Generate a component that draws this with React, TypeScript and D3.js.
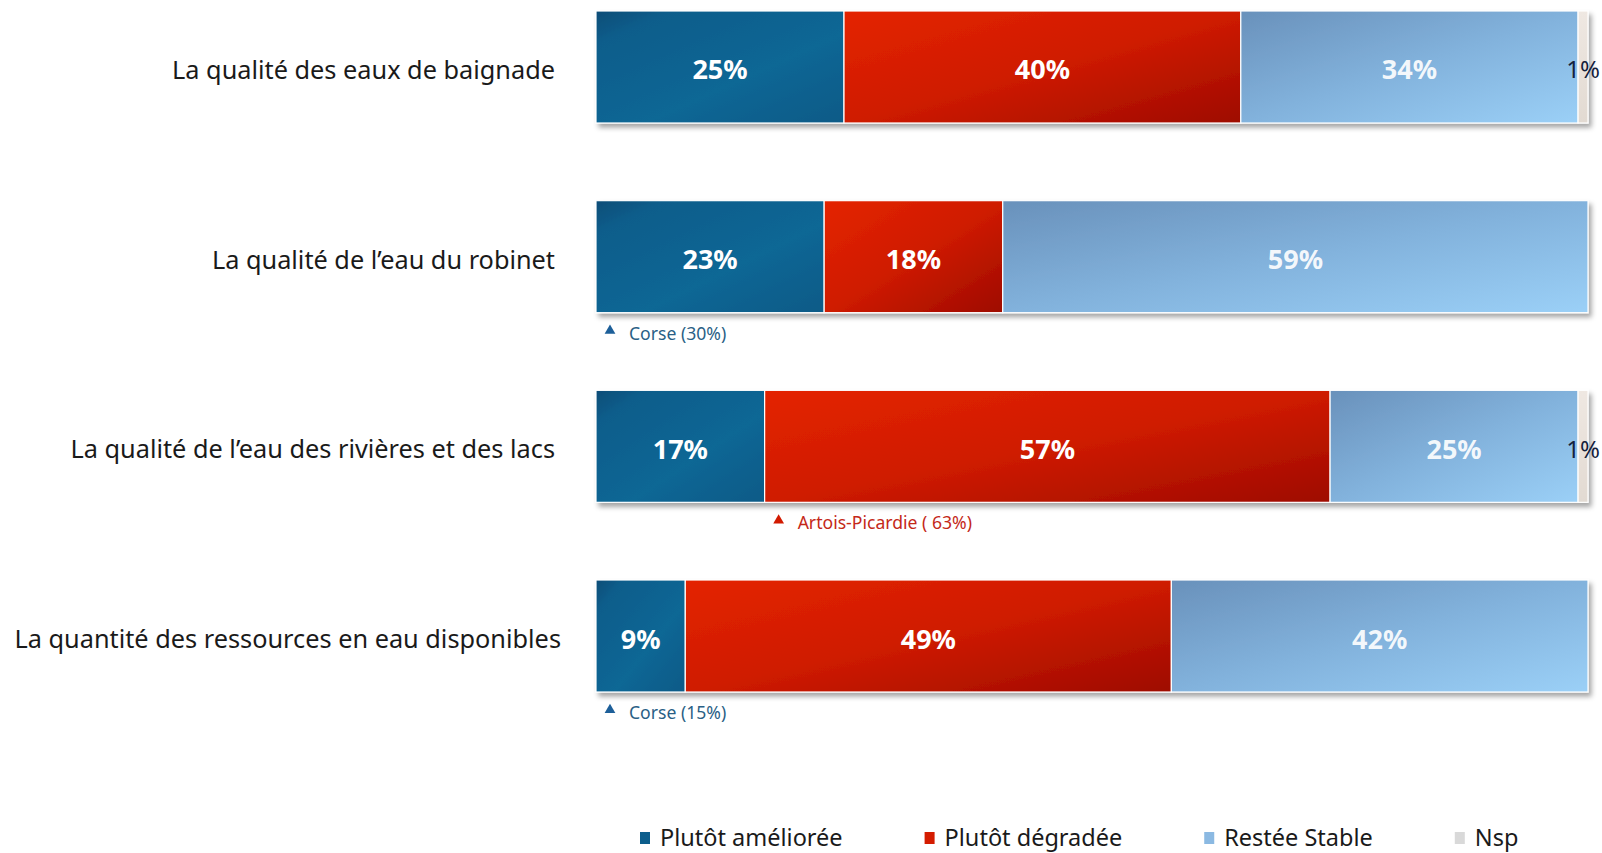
import React from "react";
import * as d3 from "d3";

const categories = [
  "La qualité des eaux de baignade",
  "La qualité de l’eau du robinet",
  "La qualité de l’eau des rivières et des lacs",
  "La quantité des ressources en eau disponibles",
];
const seriesNames = ["Plutôt améliorée", "Plutôt dégradée", "Restée Stable", "Nsp"];
const ameliore = [25, 23, 17, 9];
const degrade = [40, 18, 57, 49];
const stable = [34, 59, 25, 42];
const nsp = [1, 0, 1, 0];
const annotations = [
  { cat: 1, series: 0, text: "Corse (30%)" },
  { cat: 2, series: 1, text: "Artois-Picardie ( 63%)" },
  { cat: 3, series: 0, text: "Corse (15%)" },
];

const W = 1602;
const H = 853;
const FONT = "'Noto Sans', 'Open Sans', sans-serif";
const gradIds = ["gAm", "gDeg", "gSt", "gNsp"];
const legendColors = ["#0d5e8c", "#d41c00", "#8bb9e2", "#d9d9d9"];
const labelColors = ["#ffffff", "#ffffff", "#ffffff", "#14213d"];
const annColors = ["#2a5f86", "#c42818"];
const triColors = ["#1d5f99", "#d21a00"];

function measure(text: string, font: string) {
  const c = document.createElement("canvas").getContext("2d")!;
  c.font = font;
  return c.measureText(text).width;
}

export default function App() {
  const values = [ameliore, degrade, stable, nsp];
  const x = d3.scaleLinear().domain([0, 100]).range([596, 1588]);
  const y = d3.scaleBand<number>().domain(d3.range(categories.length)).range([11, 692]).paddingInner(0.4095).paddingOuter(0);
  const bw = y.bandwidth();

  const rows = categories.map((c, i) => {
    const vals = values.map((s) => s[i]);
    const stack: { s: number; x0: number; x1: number; v: number }[] = [];
    let acc = 0;
    vals.forEach((v, s) => {
      stack.push({ s, x0: acc, x1: acc + v, v });
      acc += v;
    });
    return { c, i, stack };
  });

  const legendFont = `23.5px ${FONT}`;
  let lx = 640;
  const legend = seriesNames.map((n, k) => {
    const item = { n, k, x: lx };
    lx += 20 + measure(n, legendFont) + 82;
    return item;
  });

  return (
    <svg width={W} height={H} style={{ position: "absolute", left: 0, top: 0, background: "#fff" }}>
      <defs>
        <linearGradient id="gAm" x1="0" y1="0" x2="1" y2="1">
          <stop offset="0" stopColor="#0a4d77" />
          <stop offset="0.15" stopColor="#0c5d8b" />
          <stop offset="0.6" stopColor="#0e6795" />
          <stop offset="1" stopColor="#0b5a87" />
        </linearGradient>
        <linearGradient id="gDeg" x1="0" y1="0" x2="1" y2="1">
          <stop offset="0" stopColor="#e42400" />
          <stop offset="0.5" stopColor="#cf1b00" />
          <stop offset="1" stopColor="#9e0a00" />
        </linearGradient>
        <linearGradient id="gSt" x1="0" y1="0" x2="1" y2="1">
          <stop offset="0" stopColor="#6991bb" />
          <stop offset="0.5" stopColor="#82b2dc" />
          <stop offset="1" stopColor="#9bd0f7" />
        </linearGradient>
        <linearGradient id="gNsp" x1="0" y1="0" x2="0" y2="1">
          <stop offset="0" stopColor="#efe8e2" />
          <stop offset="1" stopColor="#e2dad2" />
        </linearGradient>
        <filter id="shadow" x="-5%" y="-10%" width="115%" height="130%">
          <feDropShadow dx="3" dy="4" stdDeviation="2.5" floodColor="#000" floodOpacity="0.35" />
        </filter>
      </defs>

      {rows.map((r) => {
        const y0 = y(r.i)!;
        return (
          <g key={r.c}>
            <text
              x={r.i === 3 ? 561 : 555}
              y={y0 + bw / 2 + 2}
              textAnchor="end"
              dominantBaseline="central"
              fontFamily={FONT}
              fontSize={25.3}
              fill="#1a1a1a"
            >
              {r.c}
            </text>
            <g filter="url(#shadow)">
              {r.stack
                .filter((d) => d.v > 0)
                .map((d) => (
                  <rect
                    key={d.s}
                    x={x(d.x0)}
                    y={y0}
                    width={x(d.x1) - x(d.x0)}
                    height={bw}
                    fill={`url(#${gradIds[d.s]})`}
                    stroke="#ffffff"
                    strokeWidth={1.2}
                  />
                ))}
            </g>
            {r.stack
              .filter((d) => d.v > 0)
              .map((d) => (
                <text
                  key={"l" + d.s}
                  x={(x(d.x0) + x(d.x1)) / 2}
                  y={y0 + bw / 2 + 2}
                  textAnchor="middle"
                  dominantBaseline="central"
                  fontFamily={FONT}
                  fontSize={d.s === 3 ? 24 : 27}
                  fontWeight={d.s === 3 ? 400 : 700}
                  fill={labelColors[d.s]}
                  fillOpacity={d.s === 2 ? 0.92 : 1}
                >
                  {d.v}%
                </text>
              ))}
          </g>
        );
      })}

      {annotations.map((a, k) => {
        const row = rows[a.cat];
        const seg = row.stack[a.series];
        const ax = x(seg.x0) + 14;
        const ay = y(a.cat)! + bw + 20;
        return (
          <g key={"a" + k}>
            <path
              d={d3.symbol().type(d3.symbolTriangle).size(50)()!}
              transform={`translate(${ax},${ay - 2})`}
              fill={triColors[a.series]}
            />
            <text
              x={ax + 19}
              y={ay}
              dominantBaseline="central"
              fontFamily={FONT}
              fontSize={17.6}
              fill={annColors[a.series]}
            >
              {a.text}
            </text>
          </g>
        );
      })}

      {legend.map((l) => (
        <g key={"lg" + l.k}>
          <rect x={l.x} y={832} width={10} height={12} fill={legendColors[l.k]} />
          <text x={l.x + 20} y={837} dominantBaseline="central" fontFamily={FONT} fontSize={23.5} fill="#1a1a1a">
            {l.n}
          </text>
        </g>
      ))}
    </svg>
  );
}
